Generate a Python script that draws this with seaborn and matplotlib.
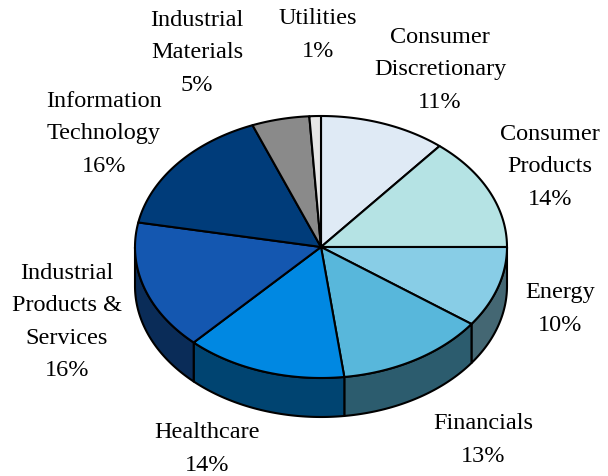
import numpy as np
import matplotlib
matplotlib.use("Agg")
import matplotlib.pyplot as plt
import seaborn as sns

categories = ["Consumer\nDiscretionary", "Consumer\nProducts", "Energy", "Financials",
              "Healthcare", "Industrial\nProducts &\nServices", "Information\nTechnology",
              "Industrial\nMaterials", "Utilities"]
values = [11, 14, 10, 13, 14, 16, 16, 5, 1]
colors = ["#dfeaf5", "#b5e3e4", "#88cde6", "#58b7db", "#0088e2", "#1457b0",
          "#003c7a", "#8a8a8a", "#e6e6e6"]
label_pos = [(440, 70), (550, 167), (560, 309), (483, 440), (207, 449),
             (67, 322), (104, 134), (197, 53), (318, 35)]

sns.set_theme(style="white")
plt.rcParams['font.family'] = ['Liberation Serif', 'DejaVu Serif']

fig = plt.figure(figsize=(6.08, 4.77), dpi=100)
ax = fig.add_axes([0, 0, 1, 1])
ax.set_xlim(0, 608)
ax.set_ylim(477, 0)
ax.axis("off")

cx, cy, rx, ry, depth = 321, 248, 186, 131, 39

def pt(theta_deg, dy=0):
    t = np.radians(theta_deg)
    return cx + rx * np.sin(t), cy - ry * np.cos(t) + dy

total = sum(values)
starts = np.cumsum([0] + values[:-1]) / total * 360
ends = np.cumsum(values) / total * 360

def darker(c, f=0.5):
    r, g, b = matplotlib.colors.to_rgb(c)
    return (r * f, g * f, b * f)

# side faces
for a, b, c in zip(starts, ends, colors):
    lo, hi = max(a, 90), min(b, 270)
    if lo >= hi:
        continue
    th = np.linspace(lo, hi, 60)
    xs_top, ys_top = pt(th)
    xs_bot, ys_bot = pt(th[::-1], depth)
    xs = np.concatenate([xs_top, xs_bot])
    ys = np.concatenate([ys_top, ys_bot])
    ax.fill(xs, ys, facecolor=darker(c), edgecolor="black", linewidth=1.5, joinstyle="round")

# top faces
for a, b, c in zip(starts, ends, colors):
    th = np.linspace(a, b, 80)
    xs, ys = pt(th)
    xs = np.concatenate([[cx], xs])
    ys = np.concatenate([[cy], ys])
    ax.fill(xs, ys, facecolor=c, edgecolor="black", linewidth=1.5, joinstyle="round")

for name, v, (x, y) in zip(categories, values, label_pos):
    ax.text(x, y, f"{name}\n{v}%", ha="center", va="center", fontsize=17.5,
            color="black", linespacing=1.72)

fig.savefig("out.png", dpi=100)
